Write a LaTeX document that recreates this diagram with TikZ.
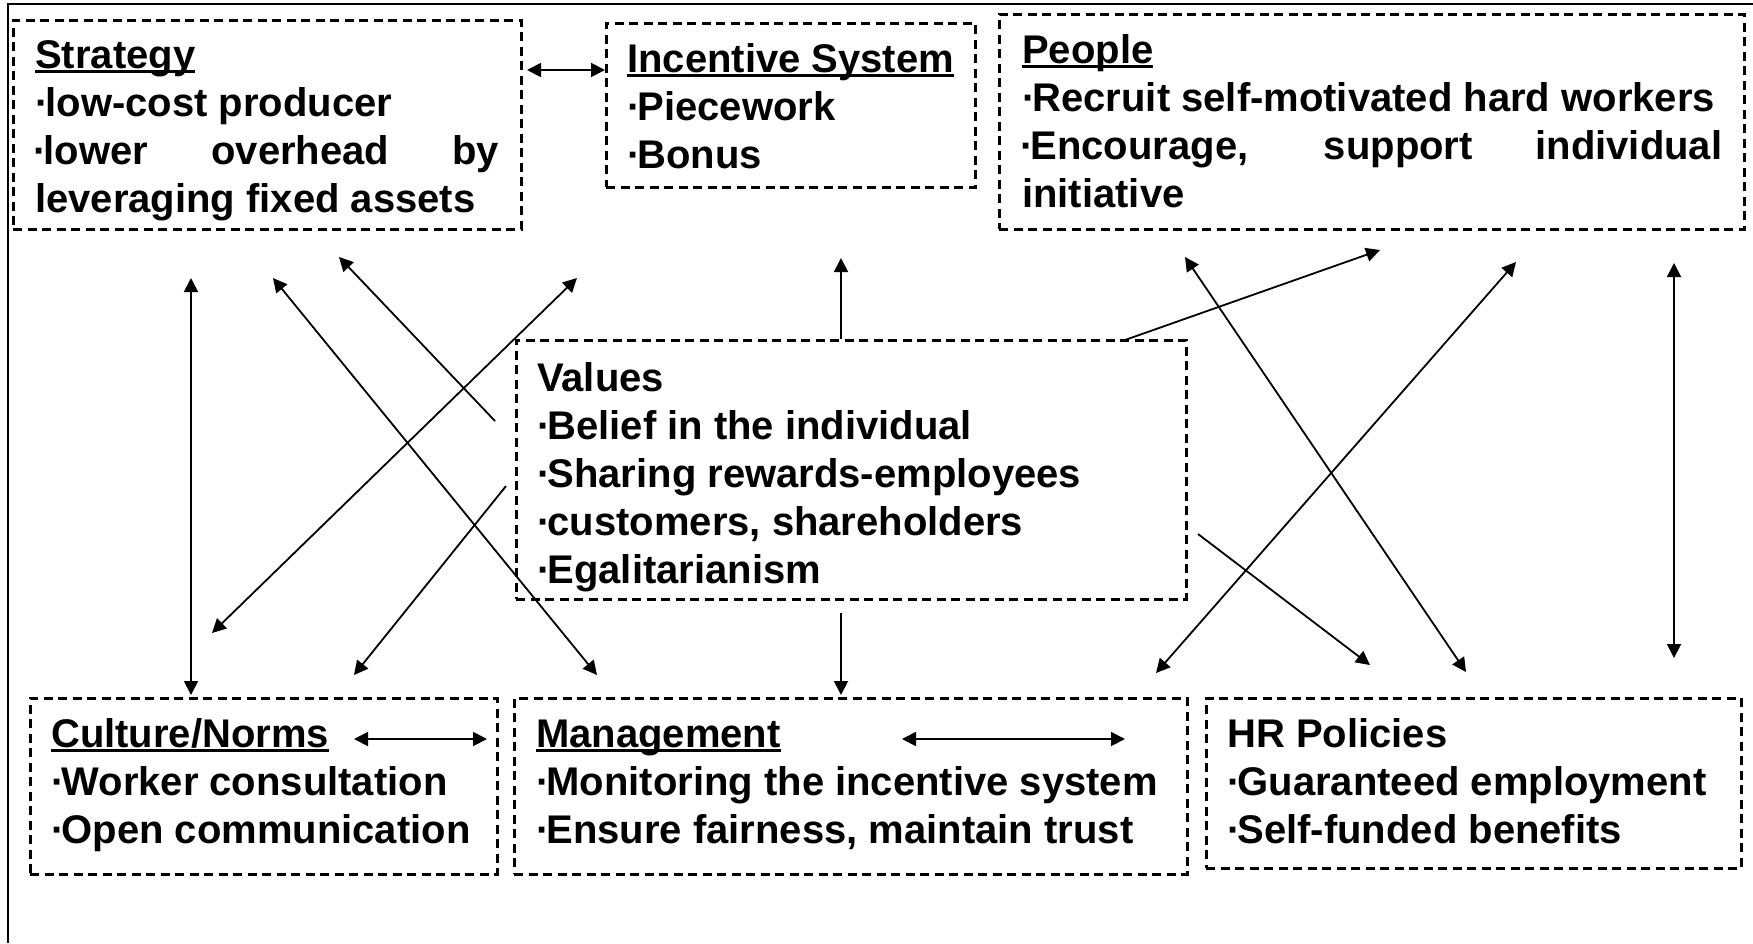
\documentclass[tikz,border=0pt]{standalone}
\usepackage{fontspec}
\setmainfont{Liberation Sans}
\usetikzlibrary{arrows.meta}
\newcommand\ulx[1]{\leavevmode\setbox0\hbox{#1}\rlap{\rule[-5pt]{\wd0}{2.6pt}}\box0}
\newcommand\bu{\leavevmode\kern-2pt·\kern-3pt}
\begin{document}
\begin{tikzpicture}[x=1pt,y=-1pt,
  box/.style={draw, dash pattern=on 9pt off 5.5pt, line width=2.5pt, inner sep=0pt, anchor=north west},
  txt/.style={anchor=base west, inner sep=0pt, font=\fontsize{40}{48}\selectfont\bfseries},
  link/.style={line width=1.8pt, -{Triangle[length=14pt,width=14pt]}},
  dlink/.style={line width=1.8pt, {Triangle[length=14pt,width=14pt]}-{Triangle[length=14pt,width=14pt]}}]
\useasboundingbox (0,0) rectangle (1753,943);
% outer frame (left and top edges)
\draw[line width=2.2pt] (8,943) -- (8,4) -- (1753,4);
% boxes
\node[box, minimum width=508pt, minimum height=209pt] (strategy) at (12,19) {};
\node[box, minimum width=369pt, minimum height=164pt] (incentive) at (605,22) {};
\node[box, minimum width=745pt, minimum height=215pt] (people) at (998,13) {};
\node[box, minimum width=670pt, minimum height=259pt] (values) at (515,339) {};
\node[box, minimum width=467pt, minimum height=176pt] (culture) at (29,697) {};
\node[box, minimum width=673pt, minimum height=176pt] (management) at (513,697) {};
\node[box, minimum width=535pt, minimum height=170pt] (hr) at (1205,697) {};
% texts
\node[txt] (strategyT) at (35,68) {\parbox[t]{464pt}{\ulx{Strategy}\\\bu low-cost producer\\\makebox[464pt][s]{\bu lower overhead by}\\leveraging fixed assets}};
\node[txt] (incentiveT) at (627,72) {\parbox[t]{340pt}{\ulx{Incentive System}\\\bu Piecework\\\bu Bonus}};
\node[txt] (peopleT) at (1022,63) {\parbox[t]{700pt}{\ulx{People}\\\bu Recruit self-motivated hard workers\\\makebox[700pt][s]{\bu Encourage, support individual}\\initiative}};
\node[txt] (valuesT) at (537,391) {\parbox[t]{640pt}{Values\\\bu Belief in the individual\\\bu Sharing rewards-employees\\\bu customers, shareholders\\\bu Egalitarianism}};
\node[txt] (cultureT) at (51,747) {\parbox[t]{440pt}{\ulx{Culture/Norms}\\\bu Worker consultation\\\bu Open communication}};
\node[txt] (managementT) at (536,747) {\parbox[t]{640pt}{\ulx{Management}\\\bu Monitoring the incentive system\\\bu Ensure fairness, maintain trust}};
\node[txt] (hrT) at (1227,747) {\parbox[t]{510pt}{HR Policies\\\bu Guaranteed employment\\\bu Self-funded benefits}};
% connector end points
\coordinate (a1) at (527,70);  \coordinate (a2) at (605,70);
\coordinate (b1) at (354,739); \coordinate (b2) at (487,739);
\coordinate (c1) at (902,739); \coordinate (c2) at (1125,739);
\coordinate (d1) at (191,278); \coordinate (d2) at (191,695);
\coordinate (e1) at (495,421); \coordinate (e2) at (339,257);
\coordinate (f1) at (273,278); \coordinate (f2) at (597,675);
\coordinate (g1) at (577,278); \coordinate (g2) at (212,633);
\coordinate (h1) at (506,486); \coordinate (h2) at (354,675);
\coordinate (i1) at (841,339); \coordinate (i2) at (841,258);
\coordinate (j1) at (841,613); \coordinate (j2) at (841,695);
\coordinate (k1) at (1125,340); \coordinate (k2) at (1380,250);
\coordinate (l1) at (1185,257); \coordinate (l2) at (1466,672);
\coordinate (m1) at (1516,262); \coordinate (m2) at (1156,673);
\coordinate (n1) at (1198,534); \coordinate (n2) at (1370,665);
\coordinate (o1) at (1674,263); \coordinate (o2) at (1674,658);
% connectors
\draw[dlink] (a1) -- (a2);
\draw[dlink] (b1) -- (b2);
\draw[dlink] (c1) -- (c2);
\draw[dlink] (d1) -- (d2);
\draw[link] (e1) -- (e2);
\draw[dlink] (f1) -- (f2);
\draw[dlink] (g1) -- (g2);
\draw[link] (h1) -- (h2);
\draw[link] (i1) -- (i2);
\draw[link] (j1) -- (j2);
\draw[link] (k1) -- (k2);
\draw[dlink] (l1) -- (l2);
\draw[dlink] (m1) -- (m2);
\draw[link] (n1) -- (n2);
\draw[dlink] (o1) -- (o2);
\end{tikzpicture}
\end{document}
